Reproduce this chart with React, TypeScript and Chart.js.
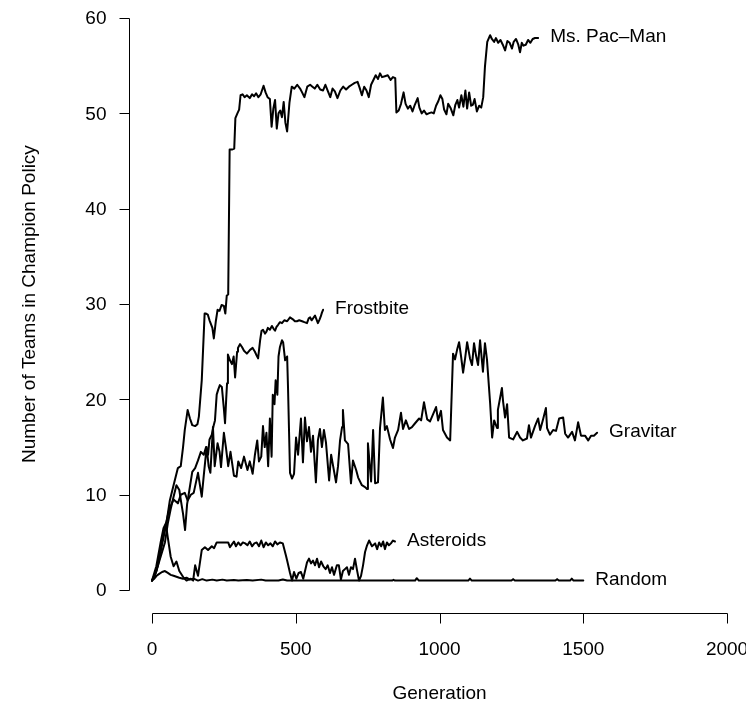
import React, { useEffect, useRef } from "react";
import { Chart, registerables } from "chart.js";

Chart.register(...registerables);

// ---- Data (generation, number of teams) ----
const msPacGen = [0, 10, 20, 30, 40, 50, 62, 75, 90, 100, 108, 114, 124, 132, 140, 150, 158, 163, 173, 183, 188, 194, 200, 210, 215, 222, 228, 235, 242, 250, 255, 260, 265, 270, 278, 286, 290, 297, 303, 308, 315, 322, 330, 340, 348, 355, 362, 370, 378, 388, 395, 402, 410, 416, 422, 428, 434, 440, 446, 452, 458, 464, 470, 478, 486, 495, 505, 515, 522, 530, 540, 550, 558, 566, 575, 585, 595, 603, 612, 620, 628, 636, 645, 655, 665, 675, 685, 695, 705, 715, 722, 730, 738, 746, 754, 762, 770, 778, 786, 793, 800, 810, 820, 830, 838, 846, 850, 858, 866, 875, 882, 890, 898, 906, 914, 924, 930, 938, 946, 955, 962, 972, 980, 988, 996, 1003, 1010, 1016, 1024, 1030, 1038, 1048, 1055, 1062, 1068, 1076, 1083, 1090, 1096, 1103, 1110, 1116, 1122, 1130, 1138, 1145, 1152, 1158, 1166, 1176, 1182, 1190, 1196, 1204, 1212, 1220, 1228, 1236, 1244, 1252, 1258, 1266, 1274, 1280, 1286, 1292, 1300, 1308, 1316, 1324, 1332, 1343];
const msPacVal = [1, 1.5, 2.5, 4, 5.5, 7, 9.4, 11, 12.8, 13, 15, 16.8, 18.9, 18, 17.3, 17.2, 17.4, 18.2, 22, 29, 29, 28.9, 28.3, 27.5, 26.4, 28.2, 29.4, 29.3, 29.9, 29.8, 29, 30.9, 31, 46.2, 46.2, 46.3, 49.5, 50, 50.4, 51.9, 52, 51.7, 51.9, 51.6, 52, 51.8, 52.1, 51.7, 52, 52.9, 52.2, 51.7, 51.5, 48.6, 50.5, 51.4, 48.4, 50, 50.3, 49.6, 51.2, 49, 48.1, 51.1, 52.8, 52.6, 53, 52.6, 52.2, 51.7, 52.8, 53, 52.8, 52.6, 53, 52.5, 52.4, 53, 52.3, 51.7, 52.6, 52.3, 51.6, 52.4, 52.8, 52.5, 52.8, 53, 53.2, 53.3, 52.7, 51.9, 52.8, 52.4, 51.7, 53, 53.5, 54, 53.6, 54.2, 53.8, 53.9, 54, 53.5, 53.8, 53.7, 50.1, 50.3, 51, 52.2, 51, 50.5, 50.8, 50.2, 50.9, 51.6, 50.6, 50, 50.3, 49.9, 50, 50.1, 50, 50.8, 51.3, 51.9, 51.5, 50.4, 49.9, 51, 50.6, 49.8, 50.9, 51.4, 50.6, 51.9, 50.7, 52.4, 50.5, 52.2, 50.8, 50.9, 51.5, 50.2, 50.8, 50.6, 51.7, 54.9, 57.5, 58.2, 57.8, 57.5, 57.9, 57.4, 57.7, 57.2, 56.6, 57.6, 57.4, 56.8, 57.5, 57.8, 57.2, 56.4, 57.4, 57.1, 57.2, 57.7, 57.4, 57.8, 57.9, 57.9];

const frostGen = [0, 15, 30, 45, 55, 65, 75, 85, 95, 100, 108, 115, 122, 130, 140, 150, 160, 170, 180, 188, 195, 200, 208, 214, 219, 225, 230, 236, 243, 250, 254, 258, 261, 264, 271, 278, 284, 289, 296, 299, 306, 313, 320, 330, 341, 350, 358, 364, 369, 376, 381, 386, 393, 398, 403, 410, 417, 423, 428, 433, 438, 445, 452, 460, 470, 480, 490, 497, 504, 512, 522, 530, 539, 545, 550, 555, 560, 567, 572, 577, 583, 587, 591, 595];
const frostVal = [1, 2, 3.5, 5, 7, 8.5, 9.8, 11, 10.5, 9.5, 8, 6.3, 9, 10.5, 12.4, 12.8, 13.6, 14.5, 14.2, 15, 14.2, 15.8, 16.3, 17.2, 17.8, 20.5, 21, 21.5, 21.3, 19, 17.5, 20, 21.7, 24.7, 24.1, 23.7, 24.5, 22.3, 25, 25.4, 25.8, 25.5, 25.1, 24.8, 25.2, 25.4, 25, 24.6, 24.3, 26.2, 27.2, 27.3, 26.9, 27.1, 27.5, 27.3, 27.7, 27.4, 27.2, 27.6, 27.8, 28.1, 28, 28.3, 28.2, 28.6, 28.4, 28.2, 28.2, 28.3, 28.2, 28.1, 28, 28.5, 28.6, 28.3, 28.5, 28.8, 28.4, 28, 28.4, 28.7, 29.1, 29.4];

const gravGen = [0, 15, 30, 45, 60, 75, 90, 100, 114, 124, 135, 145, 160, 173, 180, 190, 197, 203, 212, 218, 228, 235, 240, 250, 257, 265, 273, 285, 294, 300, 310, 320, 332, 340, 350, 358, 366, 372, 380, 386, 392, 398, 404, 410, 416, 420, 426, 430, 436, 440, 445, 452, 456, 463, 470, 473, 480, 487, 494, 501, 508, 518, 525, 532, 539, 546, 553, 560, 570, 577, 584, 591, 598, 605, 616, 623, 630, 640, 647, 654, 661, 664, 671, 682, 692, 699, 710, 717, 730, 741, 748, 751, 762, 769, 776, 786, 793, 803, 810, 817, 828, 838, 845, 856, 866, 873, 883, 894, 904, 915, 929, 936, 946, 957, 967, 977, 988, 995, 1005, 1012, 1026, 1037, 1047, 1054, 1061, 1068, 1075, 1082, 1089, 1096, 1106, 1113, 1120, 1127, 1134, 1141, 1151, 1158, 1165, 1176, 1183, 1190, 1200, 1203, 1217, 1221, 1228, 1235, 1242, 1256, 1270, 1280, 1290, 1304, 1311, 1318, 1332, 1343, 1350, 1360, 1370, 1374, 1384, 1395, 1405, 1416, 1430, 1437, 1447, 1461, 1471, 1482, 1492, 1506, 1517, 1527, 1537, 1548];
const gravVal = [1, 2, 4.5, 6.5, 8.5, 9.5, 9.1, 10, 10.2, 9.4, 10, 10.2, 12.3, 9.8, 12, 15, 13, 12.3, 17.1, 13, 15.4, 14.5, 12.9, 16.5, 15, 13, 14.5, 12, 11.9, 13.5, 12.8, 14, 12.6, 13.5, 12.2, 14.2, 15.7, 13.5, 14, 17.2, 15, 16.5, 13, 18, 14, 20.5, 19.5, 22, 20.5, 24.5, 25.5, 26.2, 26, 24.1, 24.5, 21.3, 12.3, 11.7, 12.2, 16, 14.2, 18, 13.4, 18.1, 15.6, 17.1, 14.5, 16.2, 11.3, 15.7, 16.9, 15, 16.8, 15.5, 11.5, 14.2, 13, 11.3, 13, 15.7, 17.1, 18.9, 15.7, 15.3, 11.2, 13.6, 12.6, 11.8, 11, 10.8, 10.6, 15.4, 11.4, 16.8, 11.2, 11.3, 17, 20.2, 16.8, 17.2, 15.8, 14.9, 16, 16.8, 18.6, 16.9, 17.8, 16.9, 17.1, 17.5, 18, 17.8, 19.7, 17.9, 17.7, 18.4, 19.2, 17.8, 18.8, 16.8, 16, 15.7, 24.8, 24.2, 25.2, 26, 24.5, 22.8, 24.3, 26, 24.3, 23.6, 25.9, 24.6, 23.6, 26.2, 22.9, 25.9, 24.2, 19.6, 16, 17.8, 17, 18.9, 21.2, 19.8, 18.1, 19.5, 16, 15.8, 16.6, 16, 15.7, 15.9, 17.3, 16, 17.2, 18, 16.8, 17.9, 19.1, 17, 16.3, 16.8, 16.7, 18, 18.1, 16.4, 16, 16.6, 15.7, 17.6, 16.2, 16.2, 15.7, 16.2, 16.2, 16.5];

const asterGen = [0, 15, 30, 40, 48, 55, 65, 75, 85, 95, 110, 120, 135, 143, 150, 160, 173, 184, 195, 208, 216, 225, 240, 252, 265, 271, 278, 285, 292, 300, 308, 316, 324, 332, 340, 348, 356, 364, 372, 380, 388, 396, 404, 412, 420, 428, 436, 445, 455, 466, 470, 480, 487, 494, 502, 510, 518, 526, 539, 546, 553, 560, 567, 574, 581, 588, 596, 604, 611, 619, 626, 633, 643, 650, 657, 664, 671, 678, 685, 692, 699, 706, 713, 720, 727, 734, 741, 748, 755, 765, 776, 783, 790, 797, 804, 810, 817, 824, 831, 838, 845];
const asterVal = [1, 2.5, 5, 6.5, 7, 5.5, 3.5, 2.5, 3, 2, 1.3, 1, 1.2, 1, 2.6, 1.5, 4.2, 4.5, 4.2, 4.6, 4.4, 5, 5, 5, 5, 4.5, 4.8, 5.1, 4.6, 5, 4.7, 5, 4.9, 4.7, 5.1, 4.6, 4.9, 5, 4.6, 5.2, 4.5, 5, 4.7, 4.9, 4.6, 5.1, 4.8, 5, 4.9, 3.6, 3.1, 1.8, 1, 1.9, 1.2, 1.8, 1.9, 1.2, 2.9, 3.3, 2.8, 3.1, 2.6, 3.3, 2.4, 3, 2.5, 2.2, 2.6, 1.8, 2.4, 1.6, 2.6, 2.6, 1.1, 2, 2.2, 2.4, 1.6, 2.4, 2.2, 3.3, 2.1, 1, 1.5, 2.6, 4, 4.7, 5.2, 4.6, 4.9, 4.3, 5, 4.6, 5.1, 4.3, 5, 4.7, 4.9, 5.2, 5.1];

const randGen = [0, 8, 16, 25, 35, 45, 55, 65, 75, 85, 95, 108, 120, 132, 145, 160, 175, 190, 210, 225, 245, 260, 285, 300, 330, 350, 380, 395, 440, 455, 470, 600, 835, 840, 845, 915, 921, 928, 1100, 1106, 1112, 1250, 1256, 1262, 1403, 1409, 1415, 1454, 1460, 1466, 1500];
const randVal = [1, 1.2, 1.5, 1.7, 1.9, 2, 1.8, 1.6, 1.5, 1.4, 1.3, 1.2, 1.3, 1.1, 1.2, 1, 1.15, 1, 1.1, 1, 1.1, 1, 1.05, 1, 1.05, 1, 1.1, 1, 1, 1.12, 1, 1, 1, 1.08, 1, 1, 1.25, 1, 1, 1.2, 1, 1, 1.15, 1, 1, 1.15, 1, 1, 1.2, 1, 1];

const seriesNames = ["Ms. Pac\u2013Man", "Frostbite", "Gravitar", "Asteroids", "Random"];
const xTicks = [0, 500, 1000, 1500, 2000];
const yTicks = [0, 10, 20, 30, 40, 50, 60];
const xTitle = "Generation";
const yTitle = "Number of Teams in Champion Policy";

const FONT = '19px "Liberation Sans", Arial, Helvetica, sans-serif';

function zip(g: number[], v: number[]) {
  return g.map((x, i) => ({ x, y: v[i] }));
}

const rAxesPlugin = {
  id: "rAxes",
  afterDraw(chart: any) {
    const { ctx, chartArea } = chart;
    const xs = chart.scales.x;
    const ys = chart.scales.y;
    ctx.save();
    ctx.strokeStyle = "#000";
    ctx.fillStyle = "#000";
    ctx.lineWidth = 1;
    ctx.font = FONT;

    // series labels
    ctx.textAlign = "left";
    ctx.textBaseline = "middle";
    chart.data.datasets.forEach((ds: any) => {
      const last = ds.data[ds.data.length - 1];
      const px = xs.getPixelForValue(last.x) + 12;
      const py = ys.getPixelForValue(last.y) - 1;
      ctx.fillText(ds.label, px, py);
    });

    // y axis
    const ax = Math.round(chartArea.left) + 0.5;
    ctx.beginPath();
    ctx.moveTo(ax, Math.round(ys.getPixelForValue(yTicks[0])) + 0.5);
    ctx.lineTo(ax, Math.round(ys.getPixelForValue(yTicks[yTicks.length - 1])) + 0.5);
    yTicks.forEach((t) => {
      const py = Math.round(ys.getPixelForValue(t)) + 0.5;
      ctx.moveTo(ax, py);
      ctx.lineTo(ax - 10, py);
    });
    ctx.stroke();
    ctx.textAlign = "right";
    ctx.textBaseline = "middle";
    yTicks.forEach((t) => {
      ctx.fillText(String(t), ax - 23, ys.getPixelForValue(t) + 1);
    });

    // x axis
    const ay = Math.round(chartArea.bottom) + 0.5;
    ctx.beginPath();
    ctx.moveTo(Math.round(xs.getPixelForValue(xTicks[0])) + 0.5, ay);
    ctx.lineTo(Math.round(xs.getPixelForValue(xTicks[xTicks.length - 1])) + 0.5, ay);
    xTicks.forEach((t) => {
      const px = Math.round(xs.getPixelForValue(t)) + 0.5;
      ctx.moveTo(px, ay);
      ctx.lineTo(px, ay + 10);
    });
    ctx.stroke();
    ctx.textAlign = "center";
    ctx.textBaseline = "middle";
    xTicks.forEach((t) => {
      ctx.fillText(String(t), xs.getPixelForValue(t), ay + 36);
    });

    // titles
    ctx.fillText(xTitle, xs.getPixelForValue(1000), ay + 80);
    ctx.translate(30, ys.getPixelForValue(30));
    ctx.rotate(-Math.PI / 2);
    ctx.fillText(yTitle, 0, 0);
    ctx.restore();
  },
};

export default function App() {
  const ref = useRef<HTMLCanvasElement | null>(null);
  useEffect(() => {
    if (!ref.current) return;
    const allGen = [msPacGen, frostGen, gravGen, asterGen, randGen];
    const allVal = [msPacVal, frostVal, gravVal, asterVal, randVal];
    const chart = new Chart(ref.current, {
      type: "line",
      data: {
        datasets: seriesNames.map((name, i) => ({
          label: name,
          data: zip(allGen[i], allVal[i]),
          borderColor: "#000",
          borderWidth: 2,
          pointRadius: 0,
          tension: 0,
          fill: false,
          borderJoinStyle: "round" as const,
          borderCapStyle: "round" as const,
        })),
      },
      options: {
        responsive: false,
        maintainAspectRatio: false,
        animation: false,
        parsing: false as any,
        layout: { padding: { left: 129, right: 4, top: 4, bottom: 93 } },
        scales: {
          x: { type: "linear", min: -80, max: 2052, display: false },
          y: { type: "linear", min: -2.4, max: 61.47, display: false },
        },
        plugins: {
          legend: { display: false },
          tooltip: { enabled: false },
          title: { display: false },
        },
      },
      plugins: [rAxesPlugin],
    });
    return () => chart.destroy();
  }, []);
  return (
    <div style={{ position: "absolute", left: 0, top: 0, width: 746, height: 706, background: "#fff" }}>
      <canvas ref={ref} width={746} height={706} style={{ display: "block", width: 746, height: 706 }} />
    </div>
  );
}
